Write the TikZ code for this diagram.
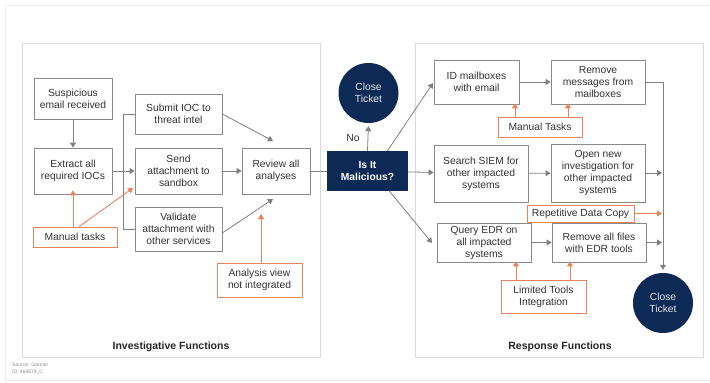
\documentclass[tikz,border=0pt]{standalone}
\usepackage{fontspec}
\setmainfont{Liberation Sans}
\usetikzlibrary{arrows.meta,calc}
\definecolor{navy}{HTML}{0C2A55}
\definecolor{orng}{HTML}{E5835C}
\definecolor{boxgray}{HTML}{8A8A8A}
\definecolor{arrgray}{HTML}{808080}
\definecolor{panelgray}{HTML}{DADADA}
\tikzset{
  gbox/.style={draw=boxgray, line width=0.8pt, fill=white, align=center, inner sep=1pt,
    font=\fontsize{10.3}{12}\selectfont, text=black!80},
  obox/.style={gbox, draw=orng},
  arr/.style={draw=arrgray, line width=0.8pt, -{Triangle[width=6pt,length=5pt]}},
  oarr/.style={draw=orng, line width=0.9pt, -{Triangle[width=6pt,length=5pt]}},
  gline/.style={draw=arrgray, line width=0.8pt},
  circ/.style={circle, fill=navy, minimum size=60pt, inner sep=0pt, align=center, text=white!88!navy,
    font=\fontsize{10.3}{12}\selectfont},
  panel/.style={draw=panelgray, line width=0.9pt},
}
\begin{document}
\begin{tikzpicture}[x=1pt,y=-1pt]
\useasboundingbox (0,0) rectangle (710,383);
% outer faint frame
\draw[draw=black!8, line width=0.8pt] (5,380) -- (5,5) -- (710,5);
\draw[draw=black!8, line width=0.8pt] (5,380) -- (710,380);
% panels
\draw[panel] (22,43) rectangle (320,357);
\draw[panel] (415,43) rectangle (703,357);
\node[font=\bfseries\fontsize{10.5}{12}\selectfont, text=black!85] (invlab) at (171,347) {Investigative Functions};
\node[font=\bfseries\fontsize{10.5}{12}\selectfont, text=black!85] (reslab) at (560,347) {Response Functions};
\node[anchor=north west, align=left, inner sep=0pt, font=\fontsize{5}{7}\selectfont, text=black!45] (src) at (12,363) {Source: Gartner\\ID: 464679\_C};

% left nodes
\node[gbox, minimum width=78pt, minimum height=41pt] (susp) at (73,98.5) {Suspicious\\email received};
\node[gbox, minimum width=78pt, minimum height=46pt] (extract) at (73,171) {Extract all\\required IOCs};
\node[gbox, minimum width=87pt, minimum height=40pt] (submit) at (178.5,114) {Submit IOC to\\threat intel};
\node[gbox, minimum width=87pt, minimum height=46pt] (send) at (178.5,171) {Send\\attachment to\\sandbox};
\node[gbox, minimum width=87pt, minimum height=44pt] (valid) at (178.5,229) {Validate\\attachment with\\other services};
\node[gbox, minimum width=68pt, minimum height=46pt] (review) at (276,171) {Review all\\analyses};
\node[obox, minimum width=84pt, minimum height=20pt] (man1) at (75,237) {Manual tasks};
\node[obox, minimum width=85pt, minimum height=34pt] (anal) at (259.5,280) {Analysis view\\not integrated};

% decision and top circle
\node[fill=navy, minimum width=81pt, minimum height=40pt, align=center, inner sep=1pt, text=white,
  font=\bfseries\fontsize{10.3}{12}\selectfont] (dec) at (367.5,171) {Is It\\Malicious?};
\node[circ] (close1) at (368.5,93) {Close\\Ticket};
\node[font=\fontsize{10.3}{12}\selectfont, text=black!80] (nolab) at (353,138) {No};

% right nodes
\node[gbox, minimum width=85pt, minimum height=44pt] (idm) at (476.5,82) {ID mailboxes\\with email};
\node[gbox, minimum width=94pt, minimum height=44pt] (remmsg) at (598,82) {Remove\\messages from\\mailboxes};
\node[obox, minimum width=84pt, minimum height=20pt] (man2) at (540,127) {Manual Tasks};
\node[gbox, minimum width=94pt, minimum height=57pt] (siem) at (481,173.5) {Search SIEM for\\other impacted\\systems};
\node[gbox, minimum width=94pt, minimum height=58pt] (opennew) at (598,173) {Open new\\investigation for\\other impacted\\systems};
\node[obox, minimum width=107pt, minimum height=17pt] (repet) at (580.5,213.5) {Repetitive Data Copy};
\node[gbox, minimum width=94pt, minimum height=39pt] (query) at (484,242.5) {Query EDR on\\all impacted\\systems};
\node[gbox, minimum width=94pt, minimum height=39pt] (remfiles) at (599,242.5) {Remove all files\\with EDR tools};
\node[obox, minimum width=85pt, minimum height=33pt] (limited) at (543.5,296.5) {Limited Tools\\Integration};
\node[circ] (close2) at (663,303) {Close\\Ticket};

% coordinates for free ends
\coordinate (rvA) at (273,141);
\coordinate (rvB) at (273,199);
\coordinate (sendB) at (133,188);
\coordinate (rvC) at (261,214);
\coordinate (idA) at (433,83);
\coordinate (qA) at (432,243);

% left connectors
\draw[arr] (susp) -- (extract);
\draw[arr] (extract) -- (send);
\draw[gline] (submit.west) -- ++(-11,0) |- (valid.west);
\draw[arr] (submit.east) -- (rvA);
\draw[arr] (send) -- (review);
\draw[arr] ([yshift=-4pt]valid.east) -- (rvB);
\draw[gline] (review) -- (dec);
\draw[oarr] ([xshift=-2pt]man1.north) -- ([yshift=4pt]extract.south);
\draw[oarr] ([xshift=4pt]man1.north) -- (sendB);
\draw[oarr] ([xshift=1.5pt]anal.north) -- (rvC);

% decision connectors
\draw[arr, shorten >=3pt] (dec.north) -- (close1.south);
\draw[arr] ([xshift=20pt]dec.north) -- (idA);
\draw[arr] (dec) -- (siem);
\draw[arr] ([xshift=22pt]dec.south) -- (qA);

% right connectors
\draw[arr] (idm) -- (remmsg);
\draw[arr] (siem) -- (opennew);
\draw[arr] (query) -- (remfiles);
\draw[arr, shorten >=3pt] (remmsg.east) -| (close2.north);
\draw[arr, shorten >=1pt] (opennew.east) -- (opennew.east -| close2.north);
\draw[arr, shorten >=1pt] (remfiles.east) -- (remfiles.east -| close2.north);
\draw[oarr, shorten >=1pt] (repet.east) -- (repet.east -| close2.north);
\draw[oarr] (man2.north -| 515,0) -- ([yshift=1pt]idm.south -| 515,0);
\draw[oarr] (man2.north -| 568,0) -- ([yshift=1pt]remmsg.south -| 568,0);
\draw[oarr] (limited.north -| 516,0) -- ([yshift=1pt]query.south -| 516,0);
\draw[oarr] (limited.north -| 570,0) -- ([yshift=1pt]remfiles.south -| 570,0);
\end{tikzpicture}
\end{document}
